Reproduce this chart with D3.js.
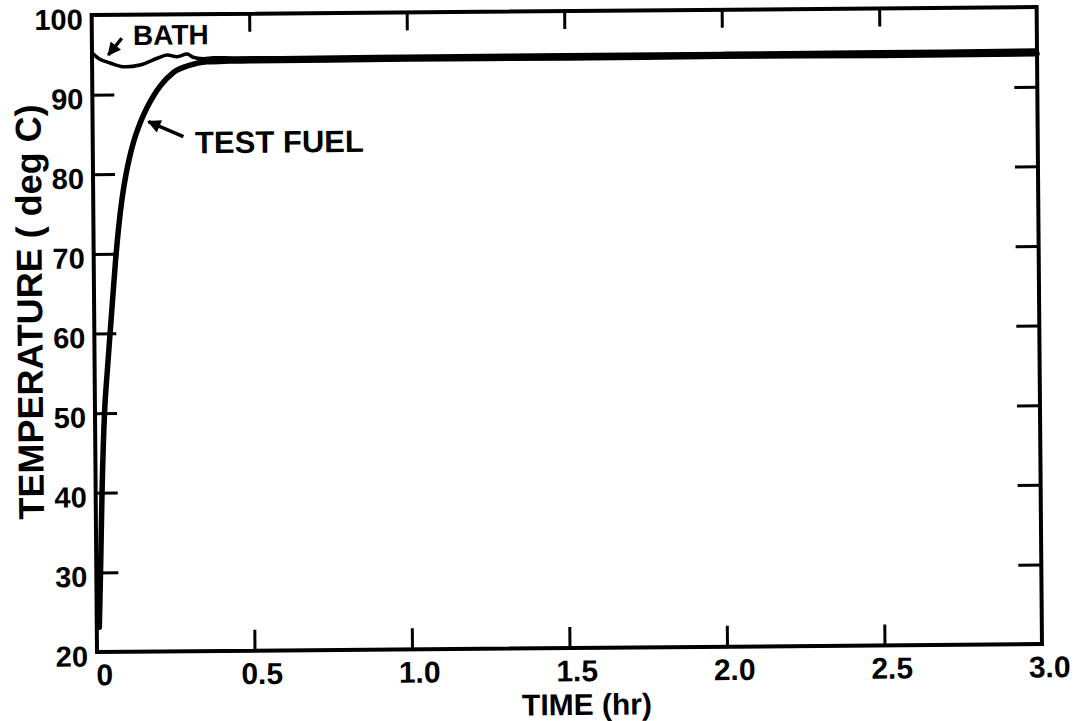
<!DOCTYPE html>
<html>
<head>
<meta charset="utf-8">
<script src="https://cdn.jsdelivr.net/npm/d3@7/dist/d3.min.js"></script>
<style>
body { margin: 0; background: #fff; }
text { font-family: 'Liberation Sans', Arial, Helvetica, sans-serif; font-weight: bold; fill: #000; }
</style>
</head>
<body>
<div id="svg"></div>
<script>
// test fuel temperature
let fuelTime = [0.008, 0.0133, 0.0202, 0.0302, 0.040, 0.050, 0.059, 0.069, 0.080, 0.092, 0.105, 0.116, 0.131, 0.151, 0.173, 0.196, 0.2155, 0.258, 0.311, 0.364, 0.42, 0.5, 0.75, 1.0, 1.5, 2.0, 2.5, 3.0]
let fuelTemp = [23.1, 30, 40, 50, 55.2, 60, 64.3, 69.0, 73.3, 77.0, 80, 82.0, 84.2, 86.4, 88.3, 89.9, 91.0, 92.7, 93.6, 94.0, 94.05, 94.1, 94.1, 94.15, 94.1, 94.15, 94.1, 94.15]

// bath temperature
let bathTime = [0, 0.025, 0.057, 0.098, 0.152, 0.2065, 0.238, 0.270, 0.302, 0.321, 0.353, 0.385, 0.45, 0.6, 1.0, 1.5, 2.0, 2.5, 3.0]
let bathTemp = [95.25, 94.43, 93.96, 93.48, 93.67, 94.5, 94.9, 94.68, 95.0, 94.59, 94.4, 94.5, 94.45, 94.45, 94.5, 94.5, 94.52, 94.55, 94.6]

let xTicks = [0.5, 1.0, 1.5, 2.0, 2.5]
let xLabels = [0, 0.5, 1.0, 1.5, 2.0, 2.5, 3.0]
let yTicks = [30, 40, 50, 60, 70, 80, 90]
let yLabels = [20, 30, 40, 50, 60, 70, 80, 90, 100]

let margin = {top: 15, right: 32, bottom: 69, left: 97}
let width = 945, height = 637

let svg = d3.select('#svg')
.append('svg')
.attr('width', 1074)
.attr('height', 721)
.style('background', '#fff')

// the scanned figure is tilted a little
let g = svg.append('g')
.attr('transform', `rotate(-0.48, ${margin.left}, ${margin.top + height})`)

let xScale = d3.scaleLinear()
.domain([0, 3])
.range([margin.left, margin.left + width])

let yScale = d3.scaleLinear()
.domain([20, 100])
.range([margin.top + height, margin.top])

function clean(sel) {
	sel.select('.domain').remove()
	sel.selectAll('line').style('stroke', '#000').style('stroke-width', 3)
}

// tick marks on all four sides, pointing inwards
g.append('g')
.attr('transform', `translate(0, ${yScale(20)})`)
.call(d3.axisBottom(xScale).tickValues(xTicks).tickSize(-21).tickFormat(''))
.call(clean)

g.append('g')
.attr('transform', `translate(0, ${yScale(100)})`)
.call(d3.axisTop(xScale).tickValues(xTicks).tickSize(-18).tickFormat(''))
.call(clean)

g.append('g')
.attr('transform', `translate(${xScale(0)}, 0)`)
.call(d3.axisLeft(yScale).tickValues(yTicks).tickSize(-22).tickFormat(''))
.call(clean)

g.append('g')
.attr('transform', `translate(${xScale(3)}, 0)`)
.call(d3.axisRight(yScale).tickValues(yTicks).tickSize(-23).tickFormat(''))
.call(clean)

// tick labels
let xAxisLabels = g.append('g')
.attr('transform', `translate(0, ${yScale(20)})`)
.call(d3.axisBottom(xScale).tickValues(xLabels).tickSize(0).tickPadding(12)
	.tickFormat(d => d === 0 ? '0' : d3.format('.1f')(d)))
.call(clean)
.style('font-size', '30px')
xAxisLabels.selectAll('text').attr('dx', 7)

let yAxisLabels = g.append('g')
.attr('transform', `translate(${xScale(0)}, 0)`)
.call(d3.axisLeft(yScale).tickValues(yLabels).tickSize(0).tickPadding(9))
.call(clean)
.style('font-size', '29px')
yAxisLabels.selectAll('text').attr('dy', 14)

// frame
g.append('rect')
.attr('x', xScale(0))
.attr('y', yScale(100))
.attr('width', xScale(3) - xScale(0))
.attr('height', yScale(20) - yScale(100))
.style('fill', 'none')
.style('stroke', '#000')
.style('stroke-width', 4)

// curves
let fuel = fuelTime.map((t, i) => ({t: t, T: fuelTemp[i]}))
let bath = bathTime.map((t, i) => ({t: t, T: bathTemp[i]}))

let fuelLine = d3.line()
.x(d => xScale(d.t))
.y(d => yScale(d.T))
.curve(d3.curveMonotoneX)

let bathLine = d3.line()
.x(d => xScale(d.t))
.y(d => yScale(d.T))
.curve(d3.curveCatmullRom)

g.append('path')
.datum(bath)
.attr('d', bathLine)
.style('fill', 'none')
.style('stroke', '#000')
.style('stroke-width', 3.5)

g.append('path')
.datum(fuel)
.attr('d', fuelLine)
.style('fill', 'none')
.style('stroke', '#000')
.style('stroke-width', 5.5)
.style('stroke-linecap', 'round')

// arrows + labels
svg.append('defs').append('marker')
.attr('id', 'head')
.attr('viewBox', '0 0 10 10')
.attr('refX', 9)
.attr('refY', 5)
.attr('markerWidth', 4.5)
.attr('markerHeight', 3.8)
.attr('markerUnits', 'strokeWidth')
.attr('orient', 'auto')
.append('path')
.attr('d', 'M0,0 L10,5 L0,10 z')
.style('fill', '#000')

g.append('line')
.attr('x1', xScale(0.095)).attr('y1', yScale(97.05))
.attr('x2', xScale(0.0518)).attr('y2', yScale(94.96))
.style('stroke', '#000')
.style('stroke-width', 3.5)
.attr('marker-end', 'url(#head)')

g.append('text')
.text('BATH')
.attr('x', xScale(0.1306))
.attr('y', yScale(96.2))
.style('font-size', '28px')

g.append('line')
.attr('x1', xScale(0.288)).attr('y1', yScale(84.63))
.attr('x2', xScale(0.1773)).attr('y2', yScale(86.55))
.style('stroke', '#000')
.style('stroke-width', 3.5)
.attr('marker-end', 'url(#head)')

g.append('text')
.text('TEST FUEL')
.attr('x', xScale(0.3248))
.attr('y', yScale(82.53))
.style('font-size', '31px')

// axis titles
g.append('text')
.text('TIME (hr)')
.attr('transform', `translate(${margin.left + width / 2 + 17}, ${margin.top + height + 67})`)
.style('text-anchor', 'middle')
.style('font-size', '30px')

g.append('text')
.text('TEMPERATURE ( deg C)')
.attr('transform', `translate(45, ${margin.top + height / 2 - 22})rotate(-90)`)
.style('text-anchor', 'middle')
.style('font-size', '36px')
</script>
</body>
</html>
